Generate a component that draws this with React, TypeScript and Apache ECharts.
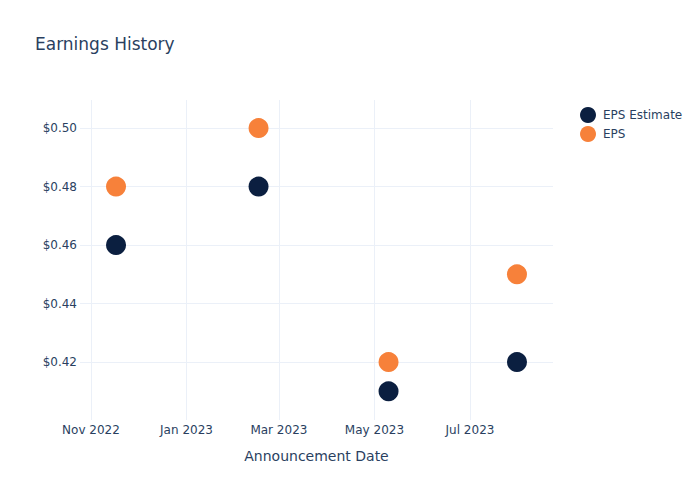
import React, { useEffect, useRef } from "react";
import * as echarts from "echarts";

const announcementDates = ["2022-11-17", "2023-02-16", "2023-05-10", "2023-07-31"];
const epsEstimate = [0.46, 0.48, 0.41, 0.42];
const epsActual = [0.48, 0.5, 0.42, 0.45];
const xTickDates = ["2022-11-01", "2023-01-01", "2023-03-01", "2023-05-01", "2023-07-01"];
const xTickLabels = ["Nov 2022", "Jan 2023", "Mar 2023", "May 2023", "Jul 2023"];
const yTickValues = [0.42, 0.44, 0.46, 0.48, 0.5];
const xRange = ["2022-10-25", "2023-08-23"];
const yRange = [0.4002, 0.5096];

const ts = (d: string) => Date.parse(d + "T00:00:00Z");

export default function App() {
  const ref = useRef<HTMLDivElement>(null);
  useEffect(() => {
    document.body.style.margin = "0";
    const chart = echarts.init(ref.current!, null, { renderer: "svg" });
    const font = "DejaVu Sans";
    const txt = "#2a3f5f";
    const grid = "#ebf0f8";
    const xTicks = xTickDates.map(ts);
    chart.setOption({
      animation: false,
      backgroundColor: "#fff",
      textStyle: { fontFamily: font },
      title: {
        text: "Earnings History",
        left: 35,
        top: 35,
        padding: 0,
        textStyle: { fontFamily: font, fontSize: 17, fontWeight: "normal", color: txt },
      },
      legend: {
        orient: "vertical",
        left: 575,
        top: 102,
        icon: "circle",
        itemWidth: 16,
        itemHeight: 16,
        itemGap: 3,
        textStyle: { fontFamily: font, fontSize: 12, color: txt, padding: [0, 0, 0, 2] },
        data: ["EPS Estimate", "EPS"],
      },
      grid: { left: 80, right: 147, top: 100, bottom: 80, containLabel: false, outerBoundsMode: "none" },
      xAxis: {
        type: "value",
        min: ts(xRange[0]),
        max: ts(xRange[1]),
        axisLine: { show: false },
        axisTick: { show: false, customValues: xTicks },
        splitLine: { show: true, lineStyle: { color: grid, width: 1 } },
        axisLabel: {
          customValues: xTicks,
          color: txt,
          fontSize: 12,
          fontFamily: font,
          margin: 4,
          formatter: (v: number) => {
            const i = xTicks.indexOf(v);
            return i >= 0 ? xTickLabels[i] : "";
          },
        },
        name: "Announcement Date",
        nameLocation: "middle",
        nameGap: 29,
        nameTextStyle: { color: txt, fontSize: 14, fontFamily: font },
      },
      yAxis: {
        type: "value",
        min: yRange[0],
        max: yRange[1],
        axisLine: { show: false },
        axisTick: { show: false, customValues: yTickValues },
        splitLine: { show: true, lineStyle: { color: grid, width: 1 } },
        axisLabel: {
          customValues: yTickValues,
          color: txt,
          fontSize: 12,
          fontFamily: font,
          margin: 3,
          formatter: (v: number) => "$" + v.toFixed(2),
        },
      },
      series: [
        {
          name: "EPS Estimate",
          type: "scatter",
          symbolSize: 20,
          itemStyle: { color: "#0b1f40", opacity: 1 },
          data: announcementDates.map((d, i) => [ts(d), epsEstimate[i]]),
        },
        {
          name: "EPS",
          type: "scatter",
          symbolSize: 20,
          itemStyle: { color: "#f7813a", opacity: 1 },
          data: announcementDates.map((d, i) => [ts(d), epsActual[i]]),
        },
      ],
    });
    return () => chart.dispose();
  }, []);
  return <div ref={ref} style={{ width: 700, height: 500 }} />;
}
